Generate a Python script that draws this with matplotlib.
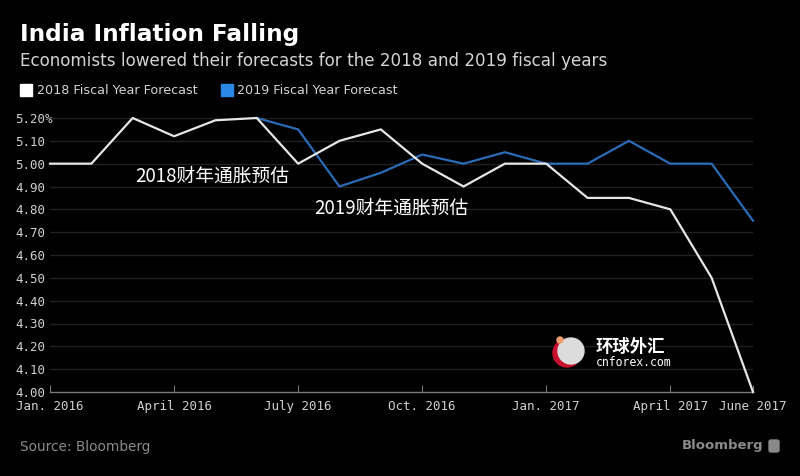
import matplotlib
matplotlib.use("Agg")
import matplotlib.pyplot as plt
from matplotlib.patches import Circle, Rectangle, FancyBboxPatch

# ---- data ----
months = list(range(18))  # Jan 2016 .. June 2017
fy2018 = [5.00, 5.00, 5.20, 5.12, 5.19, 5.20, 5.00, 5.10, 5.15, 5.00,
          4.90, 5.00, 5.00, 4.85, 4.85, 4.80, 4.50, 4.00]
fy2019_months = list(range(5, 18))
fy2019 = [5.20, 5.15, 4.90, 4.96, 5.04, 5.00, 5.05, 5.00, 5.00, 5.10,
          5.00, 5.00, 4.75]
xtick_pos = [0, 3, 6, 9, 12, 15, 17]
xtick_labels = ["Jan. 2016", "April 2016", "July 2016", "Oct. 2016",
                "Jan. 2017", "April 2017", "June 2017"]
ytick_vals = [4.00, 4.10, 4.20, 4.30, 4.40, 4.50, 4.60, 4.70, 4.80, 4.90,
              5.00, 5.10, 5.20]
ytick_labels = ["4.00", "4.10", "4.20", "4.30", "4.40", "4.50", "4.60",
                "4.70", "4.80", "4.90", "5.00", "5.10", "5.20%"]

plt.rcParams['font.family'] = ['DejaVu Sans', 'Noto Sans CJK SC']

W, H = 800, 476
fig = plt.figure(figsize=(W / 100, H / 100), dpi=100)
fig.patch.set_facecolor("#000000")

ax = fig.add_axes([50 / W, 1 - 392 / H, (753 - 50) / W, (392 - 118) / H])
ax.set_facecolor("#000000")
ax.set_xlim(0, 17)
ax.set_ylim(4.0, 5.2)

for y in ytick_vals[1:]:
    ax.axhline(y, color="#212121", lw=1.0, zorder=1)

ax.plot(months, fy2018, color="#e6e6e6", lw=1.6, zorder=3, clip_on=False)
ax.plot(fy2019_months, fy2019, color="#2b6cb8", lw=1.6, zorder=2, clip_on=False)

for s in ["top", "right", "left"]:
    ax.spines[s].set_visible(False)
ax.spines["bottom"].set_color("#7a7a7a")
ax.spines["bottom"].set_linewidth(1.0)

mono = "DejaVu Sans Mono"
ax.set_xticks(xtick_pos)
ax.set_xticklabels(xtick_labels, fontfamily=mono, fontsize=9, color="#d0d0d0")
ax.tick_params(axis="x", direction="in", length=5, color="#7a7a7a", pad=6)

ax.set_yticks(ytick_vals)
ax.set_yticklabels(ytick_labels, fontfamily=mono, fontsize=9, color="#d0d0d0")
ax.tick_params(axis="y", length=0, pad=25)
for lbl in ax.get_yticklabels():
    lbl.set_horizontalalignment("left")

# annotations
cjk = ["Noto Sans CJK SC", "DejaVu Sans"]
ax.text(2.05, 4.945, "2018财年通胀预估", family=cjk, fontsize=13.5, color="white",
        ha="left", va="center", zorder=5)
ax.text(6.4, 4.805, "2019财年通胀预估", family=cjk, fontsize=13.5, color="white",
        ha="left", va="center", zorder=5)

# title, subtitle, legend
fig.text(20 / W, 1 - 35 / H, "India Inflation Falling", fontsize=16.7,
         fontweight="bold", color="white", ha="left", va="center")
fig.text(20 / W, 1 - 61 / H,
         "Economists lowered their forecasts for the 2018 and 2019 fiscal years",
         fontsize=12.1, color="#d4d4d4", ha="left", va="center")
fig.patches.append(Rectangle((20 / W, 1 - 96 / H), 12 / W, 12 / H,
                             transform=fig.transFigure, color="white"))
fig.text(37 / W, 1 - 90 / H, "2018 Fiscal Year Forecast", fontsize=9.2,
         color="#d4d4d4", ha="left", va="center")
fig.patches.append(Rectangle((221 / W, 1 - 96 / H), 12 / W, 12 / H,
                             transform=fig.transFigure, color="#2b88e6"))
fig.text(237 / W, 1 - 90 / H, "2019 Fiscal Year Forecast", fontsize=9.2,
         color="#d4d4d4", ha="left", va="center")

# footer
fig.text(20 / W, 1 - 447 / H, "Source: Bloomberg", fontsize=9.8,
         color="#8a8a8a", ha="left", va="center")
fig.text(763 / W, 1 - 445 / H, "Bloomberg", fontsize=9.5, fontweight="bold",
         color="#8a8a8a", ha="right", va="center")
fig.patches.append(FancyBboxPatch((769, H - 452), 10, 12,
                                  boxstyle="round,pad=0,rounding_size=2",
                                  transform=None, color="#8a8a8a"))

# watermark (pixel coordinates)
fig.patches.append(Circle((567, H - 353), 14, transform=None, color="#c8102e"))
fig.patches.append(Circle((571, H - 351), 13, transform=None, color="#dcdcdc"))
fig.patches.append(Circle((560, H - 340), 3, transform=None, color="#f0a070"))
fig.text(596 / W, 1 - 347 / H, "环球外汇", family=cjk, fontsize=12.5,
         fontweight="bold", color="white", ha="left", va="center")
fig.text(596 / W, 1 - 363 / H, "cnforex.com", family=mono, fontsize=8.3,
         color="white", ha="left", va="center")

fig.savefig("out.png", dpi=100, facecolor=fig.get_facecolor())
